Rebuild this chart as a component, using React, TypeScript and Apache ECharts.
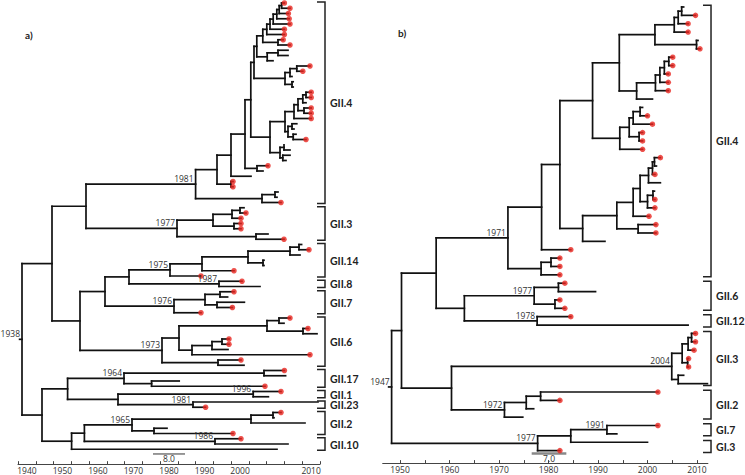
import React, { useEffect, useRef } from "react";
import * as echarts from "echarts";

type TNode = { t: number; lab?: string; dot?: boolean; c?: TNode[]; y?: number };
const N = (t: number, ...c: TNode[]): TNode => ({ t, c });
const NL = (t: number, lab: string, ...c: TNode[]): TNode => ({ t, lab, c });
const D = (t: number): TNode => ({ t, dot: true });
const L = (t: number): TNode => ({ t });

// ---------- Panel a) tree (node / tip dates in years) ----------
const a4Ladder = N(1998.2,
  N(1999.2,
    N(2000,
      N(2000.8,
        N(2001.7,
          N(2002.3, N(2002.9, D(2003.6), D(2005)), D(2004.6)),
          D(2004.8)),
        D(2005)),
      D(2003.6)),
    D(2003.6)),
  N(2002, D(2003.3), D(2005)));
const a4Upper = N(1996,
  N(1996.7, a4Ladder, N(1999.3, N(2002, L(2004.5), L(2004.5)), L(2000.75))),
  N(2003.75, N(2005, N(2006.7, D(2010), D(2008.2)), L(2005.5)), N(2005.5, L(2005.8), L(2005.8))));
const a4Middle = N(2000,
  N(2003.75,
    N(2006,
      N(2007, N(2008.2, N(2009, D(2010.3), D(2010.3)), L(2009)), N(2008.5, D(2010.3), D(2010.3))),
      D(2010.3)),
    N(2004.5, N(2005.5, L(2006.7), L(2006)), N(2005.8, L(2006.5), D(2009)))),
  N(2002.5, N(2003.5, L(2003.5), L(2005)), N(2003.2, L(2005), L(2004))));
const aGII4 = NL(1981.4, "1981",
  N(1986.75,
    N(1990.25,
      N(1993.75, N(1995.2, a4Upper, a4Middle), N(1996.75, D(1999.5), L(1998.25))),
      L(1995.25)),
    N(1990.25, D(1990.75), D(1990.75))),
  N(1998, N(2001.25, L(2002), L(2001.75)), D(2002.75)));
const aGII3 = NL(1976.75, "1977",
  N(1985.75,
    N(1990.5, N(1992.5, L(1993.5), D(1994)), D(1992.75)),
    N(1991, D(1992.75), D(1992.75))),
  N(1996.5, L(1999.5), D(2003.5)));
const aGII14to7 = N(1958.75,
  N(1964.75,
    NL(1975, "1975",
      N(1983,
        N(1994.5,
          N(2005, N(2007.25, L(2007.9), D(2009.75)), L(2007.5)),
          N(1998.25, L(1998.5), L(1998.5))),
        D(1991)),
      D(1982.75)),
    NL(1987.25, "1987", D(1993), L(1997.5))),
  NL(1976, "1976",
    N(1983.75, N(1987.5, D(1991), L(1989.4)), N(1986.75, L(1993.6), D(1990.6))),
    D(1982.75)));
const aGII6 = NL(1973, "1973",
  N(1977.25,
    N(1999.25, N(2002.25, D(2005), L(2003.5)), N(2008.25, D(2009.5), L(2011.75))),
    N(1980.5, N(1985.5, N(1988, D(1989.75), D(1989.75)), L(1989.5)), D(2010))),
  N(1987, D(1992.75), L(1993.5)));
const aLower = N(1943,
  N(1949.4,
    NL(1963.5, "1964", N(1998.5, D(2003.6), L(2003.9)), N(1970.4, L(1977.3), D(1998.75))),
    N(1962, NL(1995.8, "1996", D(2002.75), L(1999.6)), NL(1980.75, "1981", L(2012), D(1983.9)))),
  N(1950.4,
    N(1953.6,
      NL(1965.5, "1965", N(1995.25, N(2000.75, D(2002.75), L(2001)), L(2008.75)), N(1971, L(1974.25), D(1990.75))),
      NL(1986.25, "1986", D(1992.75), L(2004.5))),
    L(2001.75)));
const treeA = NL(1938, "1938",
  N(1945.5, N(1954, aGII4, aGII3), N(1952.5, aGII14to7, aGII6)),
  aLower);

// ---------- Panel b) tree ----------
const b4Upper = N(1994.3,
  N(2001.5,
    N(2005.4, N(2006.2, N(2006.9, L(2007.3), D(2009.7)), D(2008.2)), D(2008.2)),
    N(2009.9, L(2010.2), D(2010.6))),
  N(1997.8,
    N(2001.6, N(2002.5, N(2003.4, N(2004.3, D(2005.1), D(2005.1)), D(2004.2)), D(2004.2)), D(2004.2)),
    L(2001)));
const b4Middle = N(1994.4,
  N(1996.3, N(1997.1, N(1998.5, L(1999), D(2000)), D(2001)), N(1998.3, D(1999), D(1999))),
  D(1999));
const b4Lower = N(1986.9,
  N(1993.8,
    N(1997.1,
      N(1998.5,
        N(2000.2, N(2001, N(2001.4, D(2002.6), L(2001.8)), D(2001.5)), L(2002.6)),
        N(2000, N(2001.1, L(2001.4), D(2001.5)), D(2001.5))),
      D(2000.3)),
    N(1998.1, D(2001.7), D(2001.7))),
  L(1991.4));
const bGII4 = NL(1971.8, "1971",
  N(1978.6, N(1982.3, N(1988.9, b4Upper, b4Middle), b4Lower), D(1984.5)),
  N(1978.5, N(1980.5, D(1982.3), D(1982.3)), D(1982.3)));
const bGII6 = NL(1977.1, "1977", N(1982, D(1983.3), L(1989.5)), N(1981.3, D(1982.3), D(1983.3)));
const bGII12 = NL(1977.7, "1978", D(1984.5), L(2008.2));
const bGII3 = NL(2004.9, "2004",
  N(2007, N(2008.2, N(2008.9, D(2009.7), D(2009.7)), D(2009.4)), N(2008.1, D(2008.3), D(2008.3))),
  N(2006.2, L(2007.3), L(2012.1)));
const bGII2 = NL(1971.1, "1972", N(1975.5, N(1978.4, D(2002.1), D(1982.3)), L(1977)), L(1974.8));
const bGI = NL(1977.8, "1977", N(1984.5, NL(1991.8, "1991", D(2002.1), L(1993.8)), L(2000)), D(1982.3));
const treeB = NL(1948.3, "1947",
  N(1950.3, N(1957.3, bGII4, N(1963, bGII6, bGII12)), N(1960.4, bGII3, bGII2)),
  bGI);

// ---------- Clades (name, first tip, last tip) ----------
const cladesA: [string, number, number][] = [
  ["GII.4", 1, 39], ["GII.3", 40, 46], ["GII.14", 47, 53], ["GII.8", 54, 55],
  ["GII.7", 56, 60], ["GII.6", 61, 70], ["GII.17", 71, 74], ["GII.1", 75, 76],
  ["GII.23", 77, 78], ["GII.2", 79, 83], ["GII.10", 84, 86],
];
const cladesB: [string, number, number][] = [
  ["GII.4", 1, 33], ["GII.6", 34, 37], ["GII.12", 38, 39], ["GII.3", 40, 46],
  ["GII.2", 47, 50], ["GI.7", 51, 52], ["GI.3", 53, 54],
];

// ---------- Axis labels ----------
const rulerA = ["1940", "", "1950", "", "1960", "", "1970", "", "1980", "", "1990", "", "2000", "", "", "", "2010"];
const tickYearsB = [1950, 1955, 1960, 1965, 1970, 1975, 1980, 1985, 1990, 1995, 2000, 2005, 2010];
const labelYearsB = [1950, 1960, 1970, 1980, 1990, 2000, 2010];

// ---------- Scale bars (from year, length in years, text) ----------
const scaleA: [number, number, string] = [1970.75, 8, "8.0"];
const scaleB: [number, number, string] = [1976.6, 7, "7.0"];

const FONT = '"Open Sans", Lato, sans-serif';
const BOLD_FONT = 'Lato, "Open Sans", sans-serif';
const RED = "#e8251f";
const INK = "#111";

function layout(root: TNode) {
  let leaf = 0;
  const segs: number[][] = [];
  const dots: number[][] = [];
  const labels: { t: number; y: number; text: string }[] = [];
  const visit = (n: TNode, parentT: number) => {
    if (!n.c || n.c.length === 0) {
      leaf += 1;
      n.y = leaf;
      if (n.dot) dots.push([n.t, n.y]);
    } else {
      n.c.forEach((ch) => visit(ch, n.t));
      const y0 = n.c[0].y as number;
      const y1 = n.c[n.c.length - 1].y as number;
      n.y = (y0 + y1) / 2;
      segs.push([n.t, y0, n.t, y1]);
    }
    segs.push([parentT, n.y as number, n.t, n.y as number]);
    if (n.lab) labels.push({ t: n.t, y: n.y as number, text: n.lab });
  };
  visit(root, root.t - 0.6);
  return { segs, dots, labels, leaves: leaf };
}

const LA = layout(treeA);
const LB = layout(treeB);

function panelSeries(
  lay: ReturnType<typeof layout>,
  clades: [string, number, number][],
  xi: number,
  yi: number,
  bracketYear: number,
  pad: number,
  scale: [number, number, string],
  scaleY: number,
  scaleStyle: { color: string; width: number }
): any[] {
  return [
    {
      type: "custom",
      xAxisIndex: xi,
      yAxisIndex: yi,
      data: lay.segs,
      encode: { x: [0, 2], y: [1, 3] },
      z: 2,
      renderItem: (_p: any, api: any) => {
        const a = api.coord([api.value(0), api.value(1)]);
        const b = api.coord([api.value(2), api.value(3)]);
        return {
          type: "line",
          shape: { x1: a[0], y1: a[1], x2: b[0], y2: b[1] },
          style: { stroke: INK, lineWidth: 1.7, lineCap: "square" },
        };
      },
    },
    {
      type: "scatter",
      xAxisIndex: xi,
      yAxisIndex: yi,
      data: lay.dots,
      symbol: "circle",
      symbolSize: 5.5,
      itemStyle: { color: RED },
      z: 4,
      silent: true,
    },
    {
      type: "custom",
      xAxisIndex: xi,
      yAxisIndex: yi,
      data: lay.labels.map((l) => [l.t, l.y]),
      encode: { x: 0, y: 1 },
      z: 5,
      renderItem: (p: any, api: any) => {
        const l = lay.labels[p.dataIndex];
        const c = api.coord([l.t, l.y]);
        return {
          type: "text",
          x: c[0] - 2,
          y: c[1] - 1,
          style: {
            text: l.text,
            fill: "#333",
            fontSize: 8.5,
            lineHeight: 9,
            fontFamily: FONT,
            align: "right",
            verticalAlign: "bottom",
          },
        };
      },
    },
    {
      type: "custom",
      xAxisIndex: xi,
      yAxisIndex: yi,
      data: clades.map((c) => [bracketYear, c[1], c[2]]),
      encode: { x: 0, y: [1, 2] },
      z: 3,
      renderItem: (p: any, api: any) => {
        const cl = clades[p.dataIndex];
        const top = api.coord([bracketYear, cl[1] - pad]);
        const bot = api.coord([bracketYear, cl[2] + pad]);
        const xv = top[0];
        const xs = xv - 8;
        return {
          type: "group",
          children: [
            {
              type: "polyline",
              shape: { points: [[xs, top[1]], [xv, top[1]], [xv, bot[1]], [xs, bot[1]]] },
              style: { stroke: "#222", lineWidth: 1.5, fill: null },
            },
            {
              type: "text",
              x: xv + 5,
              y: (top[1] + bot[1]) / 2 + 0.5,
              style: {
                text: cl[0],
                fill: "#222",
                fontSize: 10.5,
                lineHeight: 10,
                fontWeight: "bold",
                fontFamily: BOLD_FONT,
                align: "left",
                verticalAlign: "middle",
              },
            },
          ],
        };
      },
    },
    {
      type: "custom",
      xAxisIndex: xi,
      yAxisIndex: yi,
      data: [[scale[0], scaleY, scale[0] + scale[1]]],
      encode: { x: [0, 2], y: 1 },
      z: 3,
      renderItem: (_p: any, api: any) => {
        const a = api.coord([scale[0], scaleY]);
        const b = api.coord([scale[0] + scale[1], scaleY]);
        return {
          type: "group",
          children: [
            {
              type: "line",
              shape: { x1: a[0], y1: a[1], x2: b[0], y2: b[1] },
              style: { stroke: scaleStyle.color, lineWidth: scaleStyle.width },
            },
            {
              type: "text",
              x: (a[0] + b[0]) / 2,
              y: a[1] + 1,
              style: {
                text: scale[2],
                fill: "#333",
                fontSize: 8.5,
                lineHeight: 8,
                fontFamily: FONT,
                align: "center",
                verticalAlign: "top",
              },
            },
          ],
        };
      },
    },
  ];
}

const axisLineStyle = { lineStyle: { color: "#444", width: 1 } };
const tickLabelStyle = { fontSize: 8.5, lineHeight: 8, color: "#333", margin: 2, fontFamily: FONT };

const option: any = {
  animation: false,
  backgroundColor: "#fff",
  grid: [
    { left: 18, top: 0.375, width: 302, height: 451.5, containLabel: false, outerBoundsMode: "none" },
    { left: 382.7, top: 2.8, width: 325.2, height: 452, containLabel: false, outerBoundsMode: "none" },
  ],
  xAxis: [
    { gridIndex: 0, type: "value", min: 1937, max: 2012.5, show: false },
    {
      gridIndex: 0,
      type: "category",
      data: rulerA,
      boundaryGap: true,
      position: "bottom",
      offset: 12.3,
      axisLine: axisLineStyle,
      axisTick: { show: true, inside: true, length: 3, interval: 0, lineStyle: { color: "#444" } },
      axisLabel: { interval: 0, ...tickLabelStyle },
      splitLine: { show: false },
    },
    {
      gridIndex: 1,
      type: "value",
      min: 1946.5,
      max: 2012.2,
      position: "bottom",
      offset: 8.3,
      axisLine: axisLineStyle,
      axisTick: { show: true, inside: true, length: 3, customValues: tickYearsB, lineStyle: { color: "#444" } },
      axisLabel: {
        customValues: labelYearsB,
        formatter: (v: number) => String(Math.round(v)),
        ...tickLabelStyle,
      },
      splitLine: { show: false },
    },
  ],
  yAxis: [
    { gridIndex: 0, type: "value", min: 0.5, max: LA.leaves + 0.5, inverse: true, show: false },
    { gridIndex: 1, type: "value", min: 0.5, max: LB.leaves + 0.5, inverse: true, show: false },
  ],
  graphic: [
    { type: "text", left: 25, top: 30, style: { text: "a)", fontSize: 10, fontWeight: "bold", fill: "#222", fontFamily: BOLD_FONT } },
    { type: "text", left: 398, top: 28, style: { text: "b)", fontSize: 10, fontWeight: "bold", fill: "#222", fontFamily: BOLD_FONT } },
  ],
  series: [
    ...panelSeries(LA, cladesA, 0, 0, 2013.75, 0.2, scaleA, 86.9, { color: "#333", width: 1 }),
    ...panelSeries(LB, cladesB, 2, 1, 2012.83, 0.22, scaleB, 54.33, { color: "#888", width: 2.5 }),
  ],
};

export default function App() {
  const ref = useRef<HTMLDivElement>(null);
  useEffect(() => {
    if (!ref.current) return;
    const chart = echarts.init(ref.current, null, { renderer: "svg" });
    chart.setOption(option);
    return () => chart.dispose();
  }, []);
  return (
    <div
      ref={ref}
      style={{ position: "fixed", left: 0, top: 0, width: 745, height: 475, background: "#fff" }}
    />
  );
}
